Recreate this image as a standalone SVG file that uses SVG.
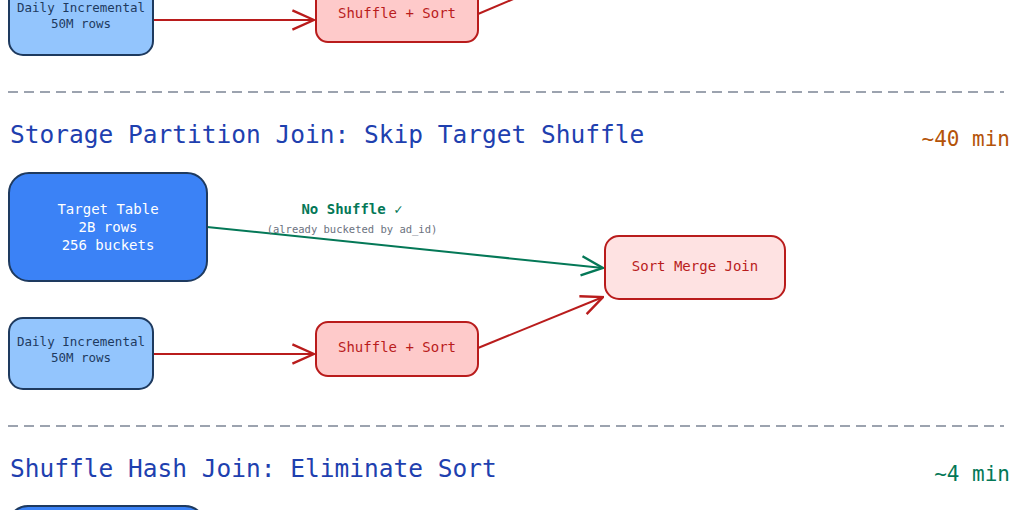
<svg xmlns="http://www.w3.org/2000/svg" width="1020" height="510" viewBox="0 0 1020 510">
<style>
text{font-family:"DejaVu Sans Mono","Liberation Mono",monospace;text-anchor:middle}
.title{font-size:24.5px;fill:#1e40af;text-anchor:start}
.dash{stroke:#9ca3af;stroke-width:2;stroke-dasharray:10 6}
.tgt{fill:#3b82f6;stroke:#1e3a5f;stroke-width:2}
.inc{fill:#93c5fd;stroke:#1e3a5f;stroke-width:2}
.ss{fill:#fecaca;stroke:#b91c1c;stroke-width:2}
.smj{fill:#fee2e2;stroke:#b91c1c;stroke-width:2}
.red{stroke:#b91c1c;stroke-width:2;fill:none}
.grn{stroke:#047857;stroke-width:2;fill:none}
.lbl{font-size:12.5px}
</style>
<defs>
<marker id="ar" viewBox="0 0 20 20" refX="19" refY="10" markerWidth="24" markerHeight="24" markerUnits="userSpaceOnUse" orient="auto"><path d="M1,2 L19,10 L1,18" fill="none" stroke="#b91c1c" stroke-width="2"/></marker>
<marker id="ag" viewBox="0 0 20 20" refX="19" refY="10" markerWidth="24" markerHeight="24" markerUnits="userSpaceOnUse" orient="auto"><path d="M1,2 L19,10 L1,18" fill="none" stroke="#047857" stroke-width="2"/></marker>
</defs>
<line class="dash" x1="8" y1="92" x2="1004" y2="92"/>
<line class="dash" x1="8" y1="426" x2="1004" y2="426"/>
<text class="title" x="10" y="143">Storage Partition Join: Skip Target Shuffle</text>
<text x="1010" y="146" style="font-size:21px;fill:#b45309;text-anchor:end">~40 min</text>
<text class="title" x="10" y="477">Shuffle Hash Join: Eliminate Sort</text>
<text x="1010" y="481" style="font-size:21px;fill:#047857;text-anchor:end">~4 min</text>
<g id="connectors">
<line class="red" x1="153" y1="20" x2="314" y2="20" marker-end="url(#ar)"/>
<line class="red" x1="478" y1="14" x2="530" y2="-8"/>
<line class="grn" x1="207" y1="227" x2="603" y2="268" marker-end="url(#ag)"/>
<line class="red" x1="153" y1="354" x2="314" y2="354" marker-end="url(#ar)"/>
<line class="red" x1="478" y1="348" x2="603" y2="297" marker-end="url(#ar)"/>
<text x="352" y="214" style="font-size:14px;fill:#047857;font-weight:bold">No Shuffle ✓</text>
<text x="352" y="233" style="font-size:10.5px;fill:#6b7280">(already bucketed by ad_id)</text>
</g>
<g id="inc-top"><rect class="inc" x="9" y="-16" width="144" height="71" rx="14"/>
<text class="lbl" x="81" y="12" fill="#1e3a5f">Daily Incremental</text><text class="lbl" x="81" y="28" fill="#1e3a5f">50M rows</text></g>
<g id="ss-top"><rect class="ss" x="316" y="-12" width="162" height="54" rx="12"/>
<text x="397" y="18" style="font-size:14px;fill:#b91c1c">Shuffle + Sort</text></g>
<g id="target"><rect class="tgt" x="9" y="173" width="198" height="108" rx="20"/>
<text x="108" y="214" style="font-size:14px;fill:#fff">Target Table</text>
<text x="108" y="232" style="font-size:14px;fill:#fff">2B rows</text>
<text x="108" y="250" style="font-size:14px;fill:#fff">256 buckets</text></g>
<g id="smj"><rect class="smj" x="605" y="236" width="180" height="63" rx="14"/>
<text x="695" y="271" style="font-size:14px;fill:#b91c1c">Sort Merge Join</text></g>
<g id="inc"><rect class="inc" x="9" y="318" width="144" height="71" rx="14"/>
<text class="lbl" x="81" y="346" fill="#1e3a5f">Daily Incremental</text><text class="lbl" x="81" y="362" fill="#1e3a5f">50M rows</text></g>
<g id="ss"><rect class="ss" x="316" y="322" width="162" height="54" rx="12"/>
<text x="397" y="352" style="font-size:14px;fill:#b91c1c">Shuffle + Sort</text></g>
<g id="target2"><rect class="tgt" x="8" y="506" width="197" height="108" rx="20"/></g>
</svg>
